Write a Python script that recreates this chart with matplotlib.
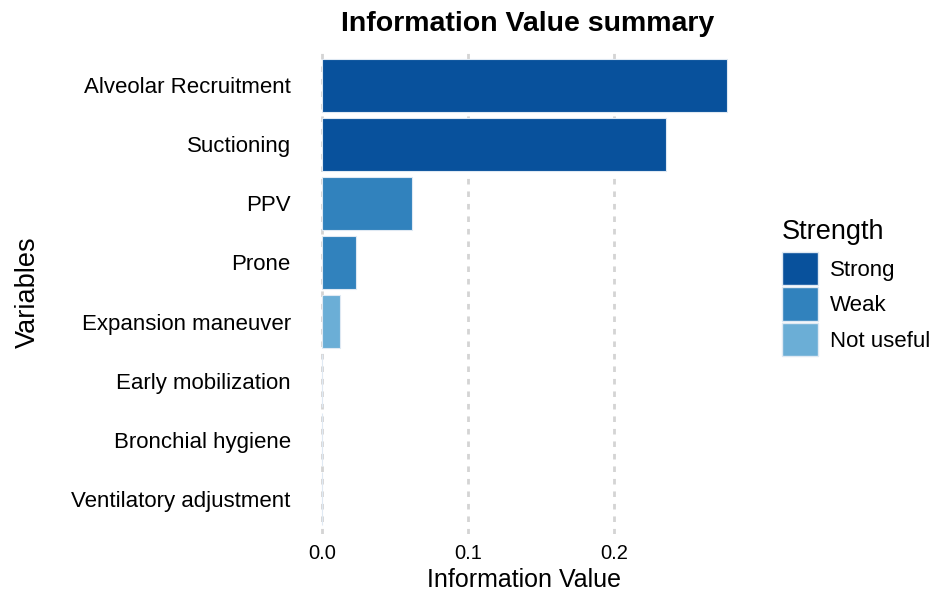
import numpy as np
import matplotlib
matplotlib.use('agg')
import matplotlib.pyplot as plt
from matplotlib.patches import Patch

plt.rcParams['font.family'] = ['Liberation Sans', 'DejaVu Sans']

variables = ["Alveolar Recruitment", "Suctioning", "PPV", "Prone",
             "Expansion maneuver", "Early mobilization", "Bronchial hygiene",
             "Ventilatory adjustment"]
iv = [0.2774, 0.2356, 0.0616, 0.0233, 0.0123, 0.0, 0.0, 0.0]
strength = ["Strong", "Strong", "Weak", "Weak", "Not useful",
            "Not useful", "Not useful", "Not useful"]
levels = ["Strong", "Weak", "Not useful"]
colors = {"Strong": "#08519C", "Weak": "#3182BD", "Not useful": "#6BAED6"}
xticks = [0.0, 0.1, 0.2]

fig = plt.figure(figsize=(9.32, 5.91), dpi=100)
ax = fig.add_axes([0.324, 0.0964, 0.4775, 0.819])

y = np.arange(len(variables))[::-1]
ax.barh(y, iv, height=0.9, color=[colors[s] for s in strength],
        edgecolor='#dfe9f3', linewidth=0.8, zorder=2)

xmax = max(iv)
ax.set_xlim(-0.05 * xmax, xmax * 1.05)
ax.set_ylim(-0.6, len(variables) - 1 + 0.6)
ax.set_yticks(y)
ax.set_yticklabels(variables, fontsize=16)
ax.set_xticks(xticks)
ax.set_xticklabels(["%.1f" % t for t in xticks], fontsize=14.5)
ax.tick_params(length=0)
ax.tick_params(axis='y', pad=8)
ax.tick_params(axis='x', pad=7)
for s in ax.spines.values():
    s.set_visible(False)
for t in xticks:
    ax.axvline(t, color='#d4d4d4', linestyle=(0, (2, 2.5)), linewidth=2, zorder=1)

ax.set_xlabel("Information Value", fontsize=18, labelpad=4)
ax.set_ylabel("Variables", fontsize=19.5, labelpad=22)
fig.text(0.566, 0.959, "Information Value summary", fontsize=20.5,
         fontweight='bold', ha='center', va='center')

handles = [Patch(facecolor=colors[l], edgecolor='#dfe9f3', label=l) for l in levels]
leg = ax.legend(handles=handles, title="Strength", loc='upper left',
                bbox_to_anchor=(1.078, 0.651), frameon=False, fontsize=16,
                title_fontsize=19.5, handlelength=1.64, handleheight=1.93,
                handletextpad=0.55, labelspacing=0.1, borderpad=0,
                borderaxespad=0)
leg._legend_box.align = 'left'
leg._legend_box.sep = 5

fig.savefig("out.png", dpi=100)
